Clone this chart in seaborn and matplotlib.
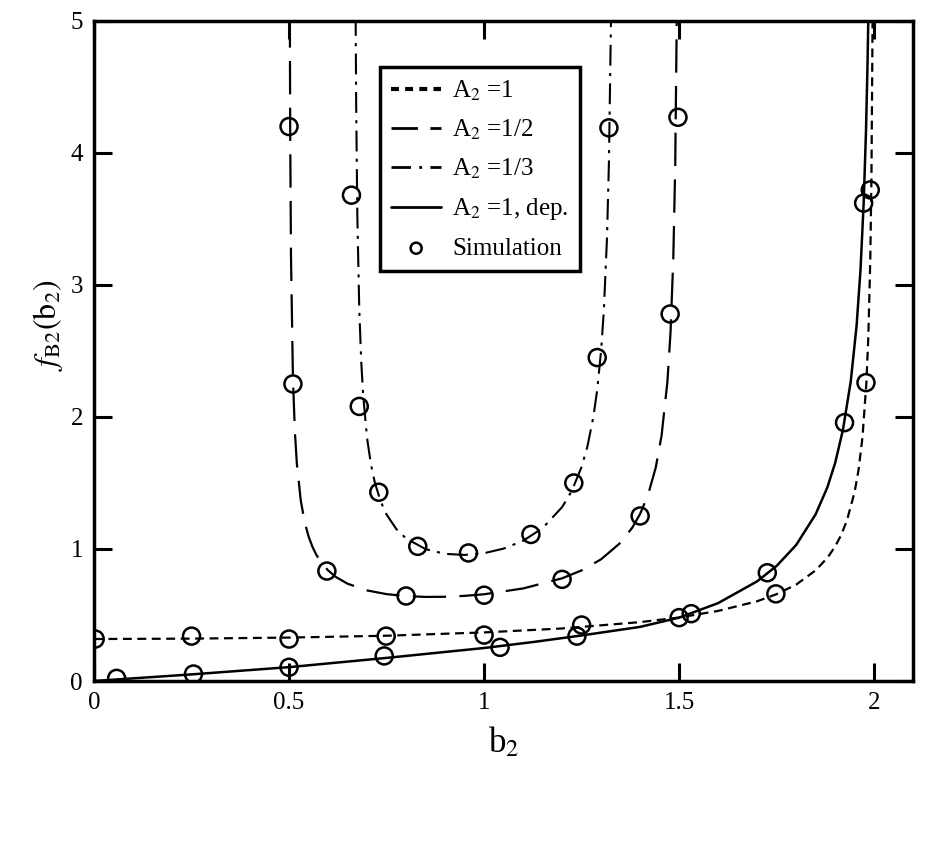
import numpy as np
import pandas as pd
import matplotlib
matplotlib.use("Agg")
import matplotlib.pyplot as plt
import seaborn as sns

# curve values
b_a1 = [0, 0.25, 0.5, 0.75, 1.0, 1.2, 1.4, 1.5, 1.6, 1.7, 1.75, 1.8, 1.85,
        1.88, 1.9, 1.915, 1.93, 1.95, 1.96, 1.97, 1.98, 1.985, 1.99, 1.993, 1.996]
f_a1 = [0.318, 0.321, 0.329, 0.343, 0.368, 0.398, 0.446, 0.481, 0.531, 0.604,
        0.658, 0.730, 0.838, 0.933, 1.019, 1.104, 1.214, 1.433, 1.600, 1.845,
        2.257, 2.604, 3.187, 3.808, 5.035]

b_a12 = [0.502, 0.503, 0.505, 0.51, 0.515, 0.52, 0.53, 0.54, 0.55, 0.56, 0.57,
         0.58, 0.6, 0.62, 0.65, 0.7, 0.75, 0.8, 0.85, 0.9, 0.95, 1.0, 1.1, 1.2,
         1.25, 1.3, 1.35, 1.38, 1.4, 1.42, 1.44, 1.455, 1.47, 1.478, 1.485,
         1.49, 1.494]
f_a12 = [5.05, 4.131, 3.21, 2.29, 1.886, 1.647, 1.368, 1.204, 1.095, 1.016,
         0.956, 0.908, 0.838, 0.788, 0.737, 0.686, 0.658, 0.643, 0.637, 0.638,
         0.645, 0.657, 0.701, 0.778, 0.838, 0.922, 1.048, 1.162, 1.266, 1.407,
         1.616, 1.859, 2.268, 2.643, 3.195, 3.908, 5.04]

b_a13 = [0.6707, 0.672, 0.675, 0.68, 0.685, 0.69, 0.7, 0.71, 0.72, 0.735, 0.75,
         0.775, 0.8, 0.85, 0.9, 0.95, 1.0, 1.05, 1.1, 1.15, 1.2, 1.225, 1.25,
         1.265, 1.28, 1.29, 1.3, 1.307, 1.315, 1.32, 1.325, 1.3252]
f_a13 = [5.045, 4.397, 3.534, 2.817, 2.422, 2.164, 1.840, 1.640, 1.502, 1.359,
         1.261, 1.151, 1.080, 0.999, 0.963, 0.955, 0.968, 1.003, 1.062, 1.158,
         1.317, 1.441, 1.622, 1.778, 1.998, 2.205, 2.503, 2.807, 3.352, 3.922,
         4.949, 5.01]

b_dep = [0, 0.25, 0.5, 0.75, 1.0, 1.125, 1.25, 1.4, 1.5, 1.6, 1.7, 1.75, 1.8,
         1.85, 1.88, 1.9, 1.92, 1.94, 1.955, 1.965, 1.973, 1.979, 1.983, 1.986]
f_dep = [0, 0.05, 0.105, 0.175, 0.25, 0.295, 0.345, 0.41, 0.48, 0.59, 0.755,
         0.872, 1.03, 1.263, 1.467, 1.652, 1.903, 2.27, 2.693, 3.116, 3.614,
         4.161, 4.676, 5.2]

# simulation points
sim_x = [0.003, 0.25, 0.5, 0.749, 1.0, 1.25, 1.531, 1.748, 1.979, 1.99,
         0.5, 0.51, 0.597, 0.8, 1.0, 1.2, 1.4, 1.477, 1.497,
         0.66, 0.68, 0.73, 0.83, 0.96, 1.12, 1.23, 1.29, 1.32,
         0.058, 0.255, 0.5, 0.744, 1.041, 1.238, 1.5, 1.726, 1.924, 1.973]
sim_y = [0.318, 0.34, 0.318, 0.34, 0.348, 0.424, 0.51, 0.66, 2.26, 3.72,
         4.2, 2.25, 0.833, 0.644, 0.65, 0.77, 1.25, 2.78, 4.27,
         3.68, 2.08, 1.43, 1.02, 0.97, 1.11, 1.5, 2.45, 4.19,
         0.02, 0.053, 0.104, 0.19, 0.255, 0.34, 0.48, 0.82, 1.957, 3.62]

sns.set_style("ticks")
plt.rcParams['font.family'] = ['Liberation Serif', 'DejaVu Serif']
plt.rcParams['mathtext.fontset'] = 'stix'
plt.rcParams['text.color'] = 'black'
plt.rcParams['axes.labelcolor'] = 'black'
plt.rcParams['xtick.color'] = 'black'
plt.rcParams['ytick.color'] = 'black'
plt.rcParams['axes.edgecolor'] = 'black'

fig = plt.figure(figsize=(9.42, 8.64), dpi=100)
ax = fig.add_axes([0.0998, 0.2118, 0.8696, 0.764])

sns.lineplot(x=b_a1, y=f_a1, ax=ax, color='black', lw=1.6,
             linestyle=(0, (4, 2.5)), sort=False, estimator=None,
             label=r'A$_2$ =1')
sns.lineplot(x=b_a12, y=f_a12, ax=ax, color='black', lw=1.6,
             linestyle=(0, (15, 6)), sort=False, estimator=None,
             label=r'A$_2$ =1/2')
sns.lineplot(x=b_a13, y=f_a13, ax=ax, color='black', lw=1.5,
             linestyle=(0, (10, 3.5, 1.5, 3.5)), sort=False, estimator=None,
             label=r'A$_2$ =1/3')
sns.lineplot(x=b_dep, y=f_dep, ax=ax, color='black', lw=1.8,
             linestyle='-', sort=False, estimator=None,
             label=r'A$_2$ =1, dep.')
sns.scatterplot(x=sim_x, y=sim_y, ax=ax, marker='o', s=150,
                facecolors='none', edgecolor='black', linewidth=1.8,
                label='Simulation', zorder=5)

ax.set_xlim(0, 2.1)
ax.set_ylim(0, 5)
ax.set_xticks([0, 0.5, 1, 1.5, 2])
ax.set_xticklabels(['0', '0.5', '1', '1.5', '2'])
ax.set_yticks([0, 1, 2, 3, 4, 5])
ax.tick_params(direction='in', length=13, width=2.2, labelsize=18,
               top=True, right=True, pad=8)
for sp in ax.spines.values():
    sp.set_linewidth(2.5)
    sp.set_visible(True)

ax.set_xlabel(r'b$_2$', fontsize=25, labelpad=8)
ax.set_ylabel(r'$f_{\mathrm{B2}}(\mathrm{b}_2)$', fontsize=23)
ax.yaxis.set_label_coords(-0.036, 0.54)

leg = ax.legend(loc='upper left', bbox_to_anchor=(0.349, 0.93),
                borderaxespad=0, fontsize=18, handlelength=2.0,
                labelspacing=0.6, frameon=True, fancybox=False,
                borderpad=0.45, handletextpad=0.45, markerscale=0.65)
leg.get_frame().set_edgecolor('black')
leg.get_frame().set_linewidth(2.5)
leg.get_frame().set_alpha(1)

# legend handles drawn with their own dash patterns, as in the reference
handles = leg.get_lines()
handles[0].set_linewidth(3)
handles[0].set_linestyle((0, (1.9, 1.5)))
handles[1].set_linewidth(2)
handles[1].set_linestyle((0, (9.5, 4.5)))
handles[2].set_linewidth(2)
handles[2].set_linestyle((0, (7, 3, 1, 3)))
handles[3].set_linewidth(2)

fig.savefig('out.png', dpi=100)
